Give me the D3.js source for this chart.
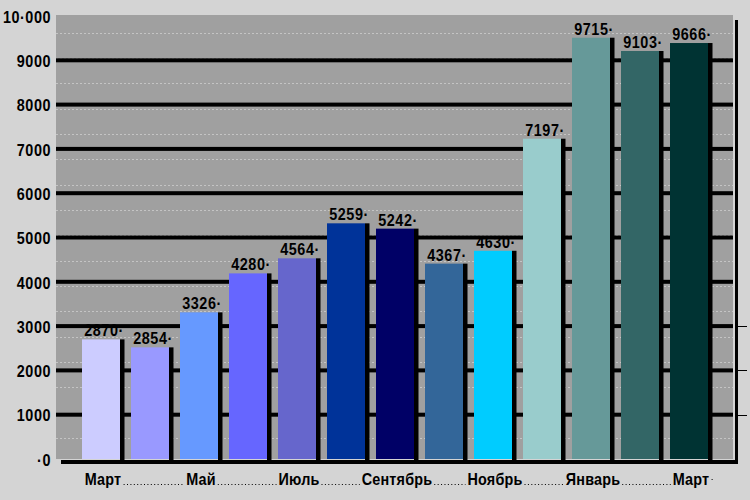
<!DOCTYPE html>
<html>
<head>
<meta charset="utf-8">
<script src="https://cdn.jsdelivr.net/npm/d3@7"></script>
<style>
  html, body { margin: 0; padding: 0; background: #d4d4d4; }
  svg { display: block; }
  .t { font-family: "Liberation Sans", Arial, sans-serif; font-weight: bold; }
</style>
</head>
<body>
<svg id="chart" width="750" height="500"></svg>
<script>
// ---- data ----
const months = ["Март", "Апрель", "Май", "Июнь", "Июль", "Август", "Сентябрь", "Октябрь", "Ноябрь", "Декабрь", "Январь", "Февраль", "Март"];
const labelValues = [2870, 2854, 3326, 4280, 4564, 5259, 5242, 4367, 4630, 7197, 9715, 9103, 9666];
// bar heights as drawn in the picture
const barValues = [2700, 2520, 3310, 4190, 4530, 5320, 5200, 4410, 4700, 7230, 9510, 9210, 9390];
const barColors = ["#ccccff", "#9999ff", "#6699ff", "#6666ff", "#6666cc", "#003399", "#000066", "#336699", "#00ccff", "#99cccc", "#669999", "#336666", "#003333"];
const yTicks = [0, 1000, 2000, 3000, 4000, 5000, 6000, 7000, 8000, 9000, 10000];
const yTickLabels = ["·0", "1000", "2000", "3000", "4000", "5000", "6000", "7000", "8000", "9000", "10·000"];
const shownMonthIdx = [0, 2, 4, 6, 8, 10, 12];

// ---- layout ----
const svg = d3.select("#chart");
const plot = { left: 56, right: 733, top: 15, bottom: 459 };
const SX = 0.9;

const y = d3.scaleLinear().domain([0, 10000]).range([459, 16]);
const x = d3.scaleBand().domain(d3.range(months.length))
  .range([76.5, 713.5]).paddingInner(11 / 49).paddingOuter(11 / 98);

svg.append("rect").attr("width", 750).attr("height", 500).attr("fill", "#d4d4d4");
svg.append("rect").attr("x", plot.left).attr("y", plot.top)
  .attr("width", plot.right - plot.left).attr("height", plot.bottom - plot.top)
  .attr("fill", "#a0a0a0");

// minor dotted grid
const minorStep = 572;
const minor = d3.range(0, 17).map(i => 9624 - i * minorStep);
svg.append("g").selectAll("line").data(minor).join("line")
  .attr("x1", plot.left).attr("x2", plot.right)
  .attr("y1", d => Math.round(y(d)) + 0.5).attr("y2", d => Math.round(y(d)) + 0.5)
  .attr("stroke", "#c4c4c4").attr("stroke-width", 1).attr("stroke-dasharray", "2,2");

// major grid
svg.append("g").selectAll("rect").data(yTicks.filter(d => d > 0 && d < 10000)).join("rect")
  .attr("x", plot.left).attr("width", plot.right - plot.left)
  .attr("y", d => y(d) - 2).attr("height", 4).attr("fill", "#000");

// right frame line and outside ticks
svg.append("rect").attr("x", 735).attr("y", 20).attr("width", 3).attr("height", 444).attr("fill", "#000");
svg.append("g").selectAll("line").data([1000, 2000, 3000]).join("line")
  .attr("x1", 738).attr("x2", 747)
  .attr("y1", d => Math.round(y(d)) + 0.5).attr("y2", d => Math.round(y(d)) + 0.5)
  .attr("stroke", "#000").attr("stroke-width", 1);

// bars with shadows
const bars = svg.append("g").selectAll("g").data(barValues).join("g");
bars.append("rect")
  .attr("x", (d, i) => x(i) + x.bandwidth())
  .attr("width", 4.5)
  .attr("y", d => y(d)).attr("height", d => 462 - y(d))
  .attr("fill", "#000");
bars.append("rect")
  .attr("x", (d, i) => x(i)).attr("width", x.bandwidth())
  .attr("y", d => y(d)).attr("height", d => y(0) - y(d))
  .attr("fill", (d, i) => barColors[i]);

// bottom axis line
svg.append("rect").attr("x", 61).attr("y", 460).attr("width", 677).attr("height", 4).attr("fill", "#000");

// narrow text helper
function narrowText(g, px, py, str, anchor, dy, spacing) {
  return g.append("text")
    .attr("class", "t")
    .attr("transform", `translate(${px},${py}) scale(${SX},1)`)
    .attr("dy", dy || 0)
    .attr("text-anchor", anchor)
    .attr("font-size", 16)
    .attr("letter-spacing", (spacing || 0) + "px")
    .attr("fill", "#000")
    .text(str);
}

// value labels
const vl = svg.append("g");
labelValues.forEach((d, i) => {
  narrowText(vl, x(i) + x.bandwidth() / 2 + 3, y(barValues[i]) - 3, d + "·", "middle", 0, 0.6);
});

// y tick labels
const yl = svg.append("g");
yTicks.forEach((d, i) => {
  narrowText(yl, 51, y(d) + 1, yTickLabels[i], "end", "0.36em", 0.6);
});

// x labels with dotted leaders
const xl = svg.append("g");
const baseY = 485;
const nodes = shownMonthIdx.map(i => narrowText(xl, x(i) + x.bandwidth() / 2 + 2, baseY, months[i], "middle", 0, 0.2));
const boxes = nodes.map(n => {
  const b = n.node().getBoundingClientRect();
  return { x: b.left, w: b.width };
});
for (let k = 0; k < boxes.length - 1; k++) {
  const x1 = boxes[k].x + boxes[k].w + 2;
  const x2 = boxes[k + 1].x - 2;
  xl.append("line").attr("x1", x1).attr("x2", x2)
    .attr("y1", baseY - 0.5).attr("y2", baseY - 0.5)
    .attr("stroke", "#000").attr("stroke-width", 1).attr("stroke-dasharray", "1,2.4");
}
const last = boxes[boxes.length - 1];
xl.append("rect").attr("x", last.x + last.w + 2).attr("y", baseY - 6).attr("width", 1).attr("height", 1).attr("fill", "#000");
</script>
</body>
</html>
